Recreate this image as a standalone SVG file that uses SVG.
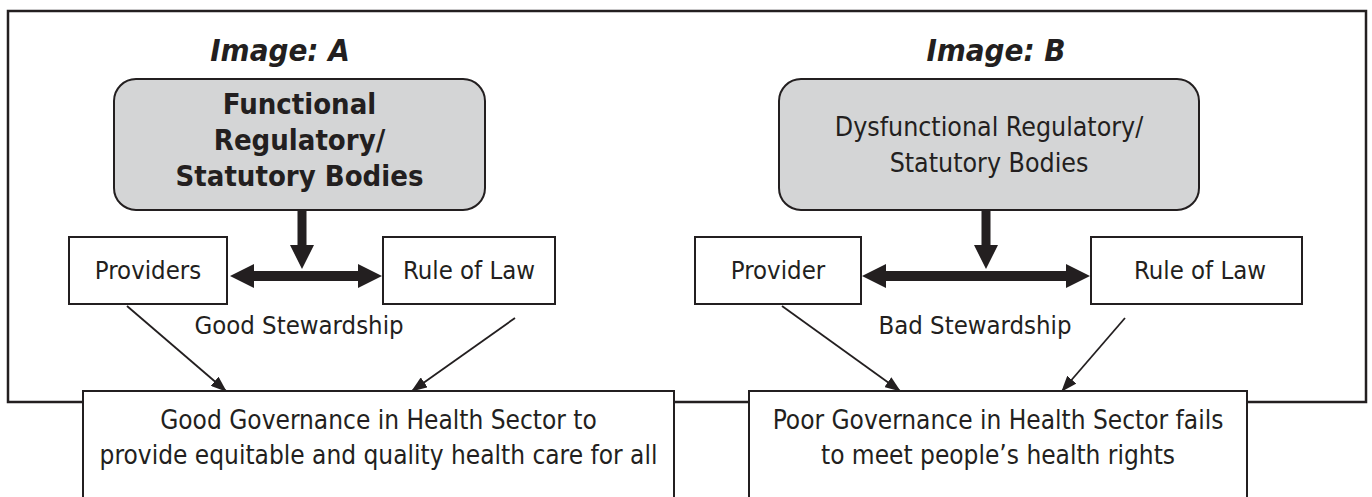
<svg xmlns="http://www.w3.org/2000/svg" width="1372" height="497" viewBox="0 0 1372 497">
  <style>
    .frame { fill: none; stroke: #231f20; stroke-width: 2.5; }
    .box { fill: #ffffff; stroke: #231f20; stroke-width: 2; }
    .body { fill: #d4d5d6; stroke: #231f20; stroke-width: 2; }
    .txt { font-family: 'DejaVu Sans Condensed', 'DejaVu Sans', sans-serif; font-stretch: condensed; fill: #231f20; text-anchor: middle; }
    .title { font-size: 31px; font-weight: bold; font-style: italic; }
    .bold { font-size: 29px; font-weight: bold; }
    .reg { font-size: 26.5px; }
    .lab { font-size: 25.5px; }
    .gov { font-size: 26px; }
    .thin { stroke: #231f20; stroke-width: 1.8; fill: none; marker-end: url(#head); }
    .thick { fill: #231f20; }
  </style>
  <defs>
    <marker id="head" viewBox="0 0 16 12" refX="15" refY="6" markerWidth="16" markerHeight="12" markerUnits="userSpaceOnUse" orient="auto">
      <path d="M0,0 L16,6 L0,12 Z" fill="#231f20"/>
    </marker>
  </defs>

  <!-- outer frame around both panels -->
  <rect class="frame" x="8" y="11" width="1358" height="391"/>

  <!-- titles -->
  <text class="txt title" x="280" y="61">Image: A</text>
  <text class="txt title" x="996" y="61">Image: B</text>

  <!-- connectors -->
  <g id="connectors">
    <!-- panel A: body down onto stewardship bar -->
    <path class="thick" d="M297.5,210 H306.5 V245 H314 L302,269 L290,245 H297.5 Z"/>
    <path class="thick" d="M230,276 L254,264 V271 H358 V264 L382,276 L358,288 V281 H254 V288 Z"/>
    <line class="thin" x1="127" y1="306" x2="226" y2="391"/>
    <line class="thin" x1="515" y1="318" x2="412" y2="391"/>

    <!-- panel B: body down onto stewardship bar -->
    <path class="thick" d="M981.5,210 H990.5 V245 H998 L986,269 L974,245 H981.5 Z"/>
    <path class="thick" d="M862,276 L886,264 V271 H1066 V264 L1090,276 L1066,288 V281 H886 V288 Z"/>
    <line class="thin" x1="782" y1="306" x2="900" y2="391"/>
    <line class="thin" x1="1125" y1="318" x2="1062" y2="391"/>
  </g>

  <!-- panel A nodes -->
  <g id="bodies-a">
    <rect class="body" x="114" y="79" width="371" height="131" rx="22"/>
    <text class="txt bold" x="299.5" y="114">Functional</text>
    <text class="txt bold" x="299.5" y="150">Regulatory/</text>
    <text class="txt bold" x="299.5" y="186">Statutory Bodies</text>
  </g>
  <g id="providers-a">
    <rect class="box" x="69" y="237" width="158" height="67"/>
    <text class="txt lab" x="148" y="279">Providers</text>
  </g>
  <g id="law-a">
    <rect class="box" x="383" y="237" width="172" height="67"/>
    <text class="txt lab" x="469" y="279">Rule of Law</text>
  </g>
  <g id="stewardship-a">
    <text class="txt lab" x="299" y="334">Good Stewardship</text>
  </g>
  <g id="governance-a">
    <rect class="box" x="83" y="391" width="591" height="112"/>
    <text class="txt gov" x="378.5" y="429">Good Governance in Health Sector to</text>
    <text class="txt gov" x="378.5" y="464">provide equitable and quality health care for all</text>
  </g>

  <!-- panel B nodes -->
  <g id="bodies-b">
    <rect class="body" x="779" y="79" width="420" height="131" rx="22"/>
    <text class="txt reg" x="989" y="136">Dysfunctional Regulatory/</text>
    <text class="txt reg" x="989" y="172">Statutory Bodies</text>
  </g>
  <g id="providers-b">
    <rect class="box" x="695" y="237" width="166" height="67"/>
    <text class="txt lab" x="778" y="279">Provider</text>
  </g>
  <g id="law-b">
    <rect class="box" x="1091" y="237" width="211" height="67"/>
    <text class="txt lab" x="1200" y="279">Rule of Law</text>
  </g>
  <g id="stewardship-b">
    <text class="txt lab" x="975" y="334">Bad Stewardship</text>
  </g>
  <g id="governance-b">
    <rect class="box" x="749" y="391" width="498" height="112"/>
    <text class="txt gov" x="998" y="429">Poor Governance in Health Sector fails</text>
    <text class="txt gov" x="998" y="464">to meet people’s health rights</text>
  </g>
</svg>
